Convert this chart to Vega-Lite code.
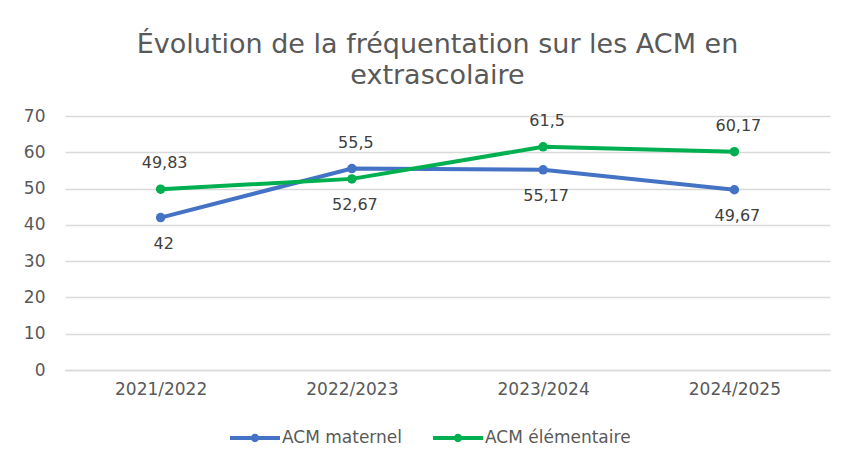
{
  "$schema": "https://vega.github.io/schema/vega-lite/v6.json",
  "autosize": {"type": "none"},
  "width": 765,
  "height": 254,
  "padding": {"left": 65, "top": 116, "right": 15, "bottom": 92},
  "background": "white",
  "config": {"view": {"stroke": null}},
  "title": {
    "text": ["Évolution de la fréquentation sur les ACM en", "extrascolaire"],
    "anchor": "middle",
    "font": "DejaVu Sans",
    "fontSize": 27,
    "fontWeight": "normal",
    "color": "#595959",
    "lineHeight": 31,
    "offset": 17,
    "dx": -10
  },
  "data": {
    "values": [
      {"annee": "2021/2022", "serie": "ACM maternel", "valeur": 42, "label": "42"},
      {"annee": "2022/2023", "serie": "ACM maternel", "valeur": 55.5, "label": "55,5"},
      {"annee": "2023/2024", "serie": "ACM maternel", "valeur": 55.17, "label": "55,17"},
      {"annee": "2024/2025", "serie": "ACM maternel", "valeur": 49.67, "label": "49,67"},
      {"annee": "2021/2022", "serie": "ACM élémentaire", "valeur": 49.83, "label": "49,83"},
      {"annee": "2022/2023", "serie": "ACM élémentaire", "valeur": 52.67, "label": "52,67"},
      {"annee": "2023/2024", "serie": "ACM élémentaire", "valeur": 61.5, "label": "61,5"},
      {"annee": "2024/2025", "serie": "ACM élémentaire", "valeur": 60.17, "label": "60,17"}
    ]
  },
  "encoding": {
    "x": {
      "field": "annee",
      "type": "nominal",
      "sort": null,
      "scale": {"paddingInner": 0, "paddingOuter": 0},
      "axis": {
        "title": null,
        "labelAngle": 0,
        "labelFont": "DejaVu Sans",
        "labelFontSize": 17,
        "labelColor": "#595959",
        "labelPadding": 11,
        "ticks": false,
        "domainColor": "#d9d9d9",
        "domainWidth": 1.3
      }
    },
    "y": {
      "field": "valeur",
      "type": "quantitative",
      "scale": {"domain": [0, 70]},
      "axis": {
        "title": null,
        "values": [0, 10, 20, 30, 40, 50, 60, 70],
        "labelFont": "DejaVu Sans",
        "labelFontSize": 17,
        "labelColor": "#595959",
        "labelPadding": 20,
        "ticks": false,
        "domain": false,
        "gridColor": "#d9d9d9",
        "gridWidth": 1.3
      }
    }
  },
  "layer": [
    {
      "mark": {"type": "line", "strokeWidth": 4, "point": {"filled": true, "size": 90}},
      "encoding": {
        "color": {
          "field": "serie",
          "type": "nominal",
          "scale": {"domain": ["ACM maternel", "ACM élémentaire"], "range": ["#4472C4", "#00B050"]},
          "legend": {
            "title": null,
            "orient": "none",
            "legendX": 173,
            "legendY": 305,
            "direction": "horizontal",
            "labelFont": "DejaVu Sans",
            "labelFontSize": 17,
            "labelColor": "#595959",
            "symbolType": "M-1.5,-0.12L1.5,-0.12L1.5,0.12L-1.5,0.12Z M-0.25,0A0.25,0.25 0 1,1 0.25,0A0.25,0.25 0 1,1 -0.25,0Z",
            "symbolSize": 1111,
            "symbolStrokeWidth": 0,
            "symbolOpacity": 1,
            "columnPadding": 30,
            "labelOffset": 10
          }
        }
      }
    },
    {
      "transform": [{"filter": "(datum.serie == 'ACM maternel' && datum.annee == '2022/2023') || (datum.serie == 'ACM élémentaire' && datum.annee != '2022/2023')"}],
      "mark": {"type": "text", "dy": -26, "dx": 4, "font": "DejaVu Sans", "fontSize": 16, "color": "#404040", "baseline": "middle"},
      "encoding": {"text": {"field": "label"}}
    },
    {
      "transform": [{"filter": "!((datum.serie == 'ACM maternel' && datum.annee == '2022/2023') || (datum.serie == 'ACM élémentaire' && datum.annee != '2022/2023'))"}],
      "mark": {"type": "text", "dy": 26, "dx": 3, "font": "DejaVu Sans", "fontSize": 16, "color": "#404040", "baseline": "middle"},
      "encoding": {"text": {"field": "label"}}
    }
  ]
}
